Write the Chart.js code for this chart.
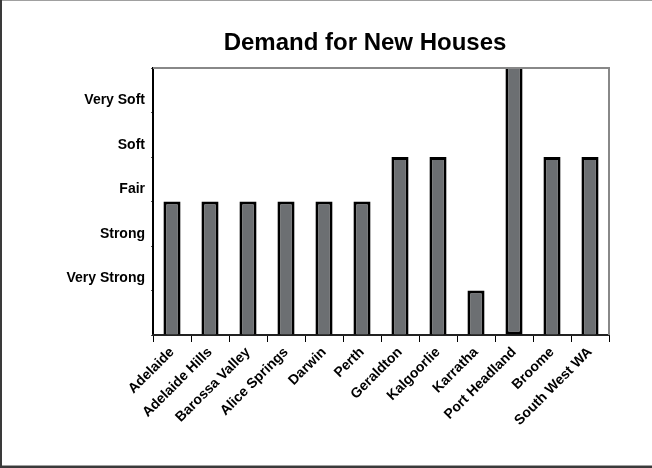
<!DOCTYPE html>
<html>
<head>
<meta charset="utf-8">
<script src="https://cdn.jsdelivr.net/npm/chart.js@4/dist/chart.umd.min.js"></script>
<style>
  html, body { margin: 0; padding: 0; background: #fff; }
  #wrap { width: 652px; height: 468px; position: relative; }
</style>
</head>
<body>
<div id="wrap"><canvas id="chart" width="652" height="468"></canvas></div>
<script>
const regions = ['Adelaide', 'Adelaide Hills', 'Barossa Valley', 'Alice Springs', 'Darwin', 'Perth',
  'Geraldton', 'Kalgoorlie', 'Karratha', 'Port Headland', 'Broome', 'South West WA']
const demand = [3, 3, 3, 3, 3, 3, 4, 4, 1, 6, 4, 4]
const levelLabels = ['', 'Very Strong', 'Strong', 'Fair', 'Soft', 'Very Soft', '']
const yMax = 6
const chartTitle = 'Demand for New Houses'

Chart.defaults.font.family = '"Liberation Sans", Arial, sans-serif'
Chart.defaults.font.weight = 'bold'
Chart.defaults.font.size = 14
Chart.defaults.color = '#000000'

// рамка вокруг графика, рамка области построения и заголовок
const framePlugin = {
  id: 'frame',
  beforeDraw(chart) {
    const ctx = chart.ctx
    ctx.save()
    ctx.fillStyle = '#ffffff'
    ctx.fillRect(0, 0, chart.width, chart.height)
    ctx.fillStyle = '#a0a0a0'
    ctx.fillRect(0, 0, chart.width, 1)
    ctx.fillRect(0, chart.height - 3, chart.width, 1)
    ctx.fillStyle = '#3a3a3a'
    ctx.fillRect(0, 0, 2, chart.height)
    ctx.fillRect(0, chart.height - 2, chart.width, 2)
    ctx.restore()
  },
  afterDatasetsDraw(chart) {
    const { ctx, chartArea: a } = chart
    ctx.save()
    ctx.strokeStyle = '#888888'
    ctx.lineWidth = 2
    ctx.beginPath()
    ctx.moveTo(a.left, a.top)
    ctx.lineTo(a.right, a.top)
    ctx.lineTo(a.right, a.bottom)
    ctx.stroke()
    ctx.restore()
  },
  afterDraw(chart) {
    const ctx = chart.ctx
    ctx.save()
    ctx.font = 'bold 24px "Liberation Sans", Arial, sans-serif'
    ctx.fillStyle = '#000000'
    ctx.textAlign = 'center'
    ctx.textBaseline = 'middle'
    ctx.fillText(chartTitle, 365, 43)
    ctx.restore()
  }
}

new Chart(document.getElementById('chart'), {
  type: 'bar',
  data: {
    labels: regions,
    datasets: [{
      data: demand,
      backgroundColor: '#6c6f72',
      borderColor: '#000000',
      borderWidth: 3,
      borderSkipped: ctx => (ctx.raw >= yMax ? 'end' : 'start'),
      categoryPercentage: 1,
      barPercentage: 0.45
    }]
  },
  options: {
    responsive: false,
    animation: false,
    layout: { padding: { left: 40, right: 43, top: 68, bottom: 10 } },
    plugins: {
      legend: { display: false },
      tooltip: { enabled: false },
      title: { display: false }
    },
    scales: {
      y: {
        min: 0,
        max: yMax,
        afterFit(scale) { scale.width = 113 },
        ticks: {
          stepSize: 1,
          padding: 6,
          labelOffset: -12,
          font: { size: 14, weight: 'bold' },
          callback: v => levelLabels[v]
        },
        grid: { drawOnChartArea: false, tickLength: 2, color: '#555555' },
        border: { color: '#000000', width: 2 }
      },
      x: {
        afterFit(scale) { scale.height = 123 },
        ticks: {
          minRotation: 45,
          maxRotation: 45,
          padding: 2,
          font: { size: 14, weight: 'bold' }
        },
        grid: { offset: true, drawOnChartArea: false, tickLength: 7, color: '#000000' },
        border: { color: '#222222', width: 2 }
      }
    }
  },
  plugins: [framePlugin]
})
</script>
</body>
</html>
